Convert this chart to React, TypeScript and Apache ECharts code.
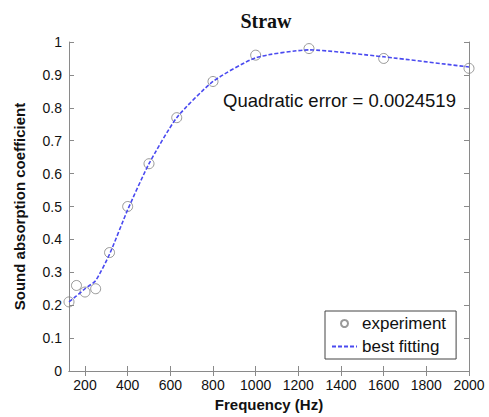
import React, { useEffect, useRef } from "react";
import * as echarts from "echarts";

const frequencies = [125, 160, 200, 250, 315, 400, 500, 630, 800, 1000, 1250, 1600, 2000];
const experiment = [0.21, 0.26, 0.24, 0.25, 0.36, 0.5, 0.63, 0.77, 0.88, 0.96, 0.98, 0.95, 0.92];
const bestFitting = [0.21, 0.228, 0.25, 0.275, 0.355, 0.49, 0.63, 0.77, 0.88, 0.952, 0.976, 0.955, 0.924];
const xTicks = [200, 400, 600, 800, 1000, 1200, 1400, 1600, 1800, 2000];
const annotation = "Quadratic error = 0.0024519";

export default function App() {
  const ref = useRef<HTMLDivElement>(null);
  useEffect(() => {
    if (!ref.current) return;
    const chart = echarts.init(ref.current, null, { renderer: "svg" });
    const axisColor = "#8a8a8a";
    const sans = "Liberation Sans, Arial, sans-serif";
    chart.setOption({
      animation: false,
      backgroundColor: "#ffffff",
      title: {
        text: "Straw",
        left: 261,
        textAlign: "center",
        top: 6,
        textStyle: { fontFamily: "Liberation Serif, Times New Roman, serif", fontWeight: "bold", fontSize: 20, color: "#111" },
      },
      grid: { left: 69, right: 20, top: 42, bottom: 46 },
      legend: {
        orient: "vertical",
        left: 325,
        top: 311,
        width: 130,
        padding: [4, 10, 4, 6],
        itemGap: 6,
        itemWidth: 25,
        itemHeight: 7,
        borderColor: "#444",
        borderWidth: 1,
        borderRadius: 0,
        backgroundColor: "#fff",
        textStyle: { fontFamily: sans, fontSize: 17, color: "#111" },
        data: ["experiment", "best fitting"],
      },
      xAxis: [
        {
          type: "value",
          min: 125,
          max: 2000,
          name: "Frequency (Hz)",
          nameLocation: "middle",
          nameGap: 26,
          nameTextStyle: { fontFamily: sans, fontWeight: "bold", fontSize: 15, color: "#111" },
          axisLine: { show: true, lineStyle: { color: axisColor } },
          axisTick: { show: true, inside: true, length: 5, customValues: xTicks, lineStyle: { color: axisColor } },
          axisLabel: {
            customValues: xTicks,
            fontFamily: sans,
            fontSize: 14,
            color: "#111",
            margin: 7,
            formatter: (v: number) => String(v),
          },
          splitLine: { show: false },
        },
        {
          type: "value",
          position: "top",
          min: 125,
          max: 2000,
          axisLine: { show: true, lineStyle: { color: axisColor } },
          axisTick: { show: true, inside: true, length: 5, customValues: xTicks, lineStyle: { color: axisColor } },
          axisLabel: { show: false },
          splitLine: { show: false },
        },
      ],
      yAxis: [
        {
          type: "value",
          min: 0,
          max: 1,
          interval: 0.1,
          name: "Sound absorption coefficient",
          nameLocation: "middle",
          nameGap: 42,
          nameTextStyle: { fontFamily: sans, fontWeight: "bold", fontSize: 15, color: "#111" },
          axisLine: { show: true, lineStyle: { color: axisColor } },
          axisTick: { show: true, inside: true, length: 5, lineStyle: { color: axisColor } },
          axisLabel: {
            fontFamily: sans,
            fontSize: 14,
            color: "#111",
            margin: 7,
            formatter: (v: number) => String(Math.round(v * 10) / 10),
          },
          splitLine: { show: false },
        },
        {
          type: "value",
          position: "right",
          min: 0,
          max: 1,
          interval: 0.1,
          axisLine: { show: true, lineStyle: { color: axisColor } },
          axisTick: { show: true, inside: true, length: 5, lineStyle: { color: axisColor } },
          axisLabel: { show: false },
          splitLine: { show: false },
        },
      ],
      graphic: [
        {
          type: "text",
          left: 223,
          top: 91,
          style: { text: annotation, fontFamily: sans, fontSize: 18.5, fill: "#111" },
        },
      ],
      series: [
        {
          name: "best fitting",
          type: "line",
          data: frequencies.map((f, i) => [f, bestFitting[i]]),
          smooth: 0.2,
          showSymbol: false,
          symbol: "circle",
          symbolSize: 0,
          lineStyle: { color: "#4a4af0", width: 1.6, type: [4, 2] },
          itemStyle: { color: "#4a4af0", opacity: 0 },
          z: 3,
        },
        {
          name: "experiment",
          type: "scatter",
          data: frequencies.map((f, i) => [f, experiment[i]]),
          symbol: "circle",
          symbolSize: 10,
          itemStyle: { color: "rgba(255,255,255,0)", borderColor: "#808080", borderWidth: 1 },
          z: 2,
        },
      ],
    });
    return () => chart.dispose();
  }, []);
  return <div ref={ref} style={{ width: 489, height: 417, position: "absolute", left: 0, top: 0 }} />;
}
